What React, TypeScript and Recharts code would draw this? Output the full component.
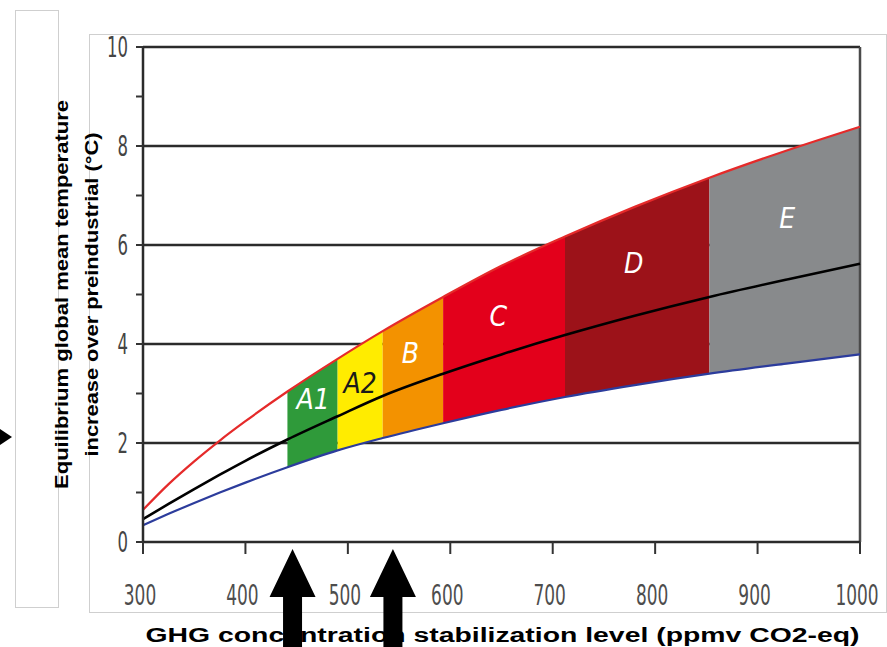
import React from "react";
import { Area, CartesianGrid, ComposedChart, Label, Line, ReferenceDot, ReferenceLine, XAxis, YAxis } from "recharts";

// GHG stabilisation level (ppmv CO2-eq) vs equilibrium warming (°C)
const ppm = [300, 325, 350, 375, 400, 441, 490, 534, 593, 650, 712, 780, 853, 930, 1000];
const upper = [0.65, 1.17, 1.63, 2.05, 2.44, 3.04, 3.7, 4.26, 4.95, 5.58, 6.17, 6.77, 7.36, 7.92, 8.39];
const central = [0.46, 0.77, 1.07, 1.36, 1.64, 2.07, 2.54, 2.95, 3.4, 3.79, 4.18, 4.57, 4.95, 5.31, 5.62];
const lower = [0.34, 0.57, 0.79, 1.0, 1.2, 1.51, 1.85, 2.1, 2.4, 2.67, 2.93, 3.17, 3.4, 3.61, 3.79];

const bandNames = ["A1", "A2", "B", "C", "D", "E"];
const bandFrom = [441, 490, 534, 593, 712, 853];
const bandTo = [490, 534, 593, 712, 853, 1000];
const bandColors = ["#2f9a3a", "#ffec00", "#f39200", "#e3001b", "#9c1219", "#888a8c"];
const labelPpm = [466, 512, 561, 647, 779, 929];
const labelTemp = [2.87, 3.21, 3.81, 4.55, 5.63, 6.54];
const labelColors = ["#ffffff", "#1a1a1a", "#ffffff", "#ffffff", "#ffffff", "#ffffff"];

const xTicks = [300, 400, 500, 600, 700, 800, 900, 1000];
const yTicks = [0, 1, 2, 3, 4, 5, 6, 7, 8, 9, 10];
const gridValues = [2, 4, 6, 8, 10];
const arrowPpm = [446, 544];

const NARROW = "'Liberation Sans Narrow', 'DejaVu Sans Condensed', 'Liberation Sans', sans-serif";
const SANS = "'Liberation Sans', Arial, sans-serif";

const rows = ppm.map((p, i) => {
  const row: Record<string, any> = { ppm: p, upper: upper[i], central: central[i], lower: lower[i] };
  bandNames.forEach((b, j) => {
    row[b] = p >= bandFrom[j] && p <= bandTo[j] ? [lower[i], upper[i]] : null;
  });
  return row;
});

const XTick = ({ x, y, payload }: any) => (
  <text
    x={x - 3}
    y={y + 49}
    textAnchor="middle"
    fill="#4d4d4d"
    fontSize={28}
    fontFamily={NARROW}
    textLength={String(payload.value).length * 10.8}
    lengthAdjust="spacingAndGlyphs"
  >
    {payload.value}
  </text>
);

const YTick = ({ x, y, payload }: any) =>
  payload.value % 2 === 0 ? (
    <text
      x={x - 6}
      y={y + 10}
      textAnchor="end"
      fill="#444"
      fontSize={28}
      fontFamily={NARROW}
      textLength={String(payload.value).length * 10.5}
      lengthAdjust="spacingAndGlyphs"
    >
      {payload.value}
    </text>
  ) : (
    <g />
  );

const ArrowUp = ({ cx, cy }: any) => (
  <polygon
    points={`${cx},${cy + 7} ${cx + 23},${cy + 55} ${cx + 9.5},${cy + 55} ${cx + 9.5},${cy + 130} ${cx - 9.5},${cy + 130} ${cx - 9.5},${cy + 55} ${cx - 23},${cy + 55}`}
    fill="#000"
  />
);

const bandLabel = (text: string, color: string) => ({ cx, cy }: any) => (
  <text
    x={cx}
    y={cy}
    textAnchor="middle"
    dominantBaseline="central"
    fill={color}
    fontSize={28}
    fontStyle="italic"
    fontFamily={NARROW}
  >
    {text}
  </text>
);

const YTitle = ({ viewBox }: any) => {
  const cy = viewBox.y + viewBox.height / 2;
  const x1 = viewBox.x - 31;
  const x2 = viewBox.x - 1;
  return (
    <g fontFamily={SANS} fontWeight="bold" fontSize={18} fill="#000">
      <text
        x={x1}
        y={cy}
        transform={`rotate(-90 ${x1} ${cy})`}
        textAnchor="middle"
        dominantBaseline="central"
        textLength={389}
        lengthAdjust="spacingAndGlyphs"
      >
        Equilibrium global mean temperature
      </text>
      <text
        x={x2}
        y={cy}
        transform={`rotate(-90 ${x2} ${cy})`}
        textAnchor="middle"
        dominantBaseline="central"
        textLength={324}
        lengthAdjust="spacingAndGlyphs"
      >
        increase over preindustrial (°C)
      </text>
    </g>
  );
};

const XTitle = ({ viewBox }: any) => (
  <text
    x={viewBox.x + viewBox.width / 2 + 1}
    y={viewBox.y + 100}
    textAnchor="middle"
    fontFamily={SANS}
    fontWeight="bold"
    fontSize={20}
    fill="#000"
    textLength={714}
    lengthAdjust="spacingAndGlyphs"
  >
    GHG concentration stabilization level (ppmv CO2-eq)
  </text>
);

export default function App() {
  return (
    <div style={{ position: "absolute", left: 0, top: 0, width: 887, height: 647, background: "#fff", overflow: "hidden" }}>
      <div style={{ position: "absolute", left: 15, top: 10, width: 42, height: 596, border: "1px solid #cfcfcf" }} />
      <div style={{ position: "absolute", left: 89, top: 34, width: 796, height: 577, border: "1px solid #cfcfcf" }} />
      <svg width={887} height={647} style={{ position: "absolute", left: 0, top: 0 }}>
        <polygon points="0,429 12,437 0,445" fill="#000" />
      </svg>
      <div style={{ position: "absolute", left: 0, top: 0 }}>
        <ComposedChart width={887} height={647} data={rows} margin={{ top: 47, right: 27, bottom: 0, left: 93 }}>
          <CartesianGrid vertical={false} horizontalValues={gridValues} stroke="#2b2b2b" strokeWidth={2.5} />
          <XAxis
            dataKey="ppm"
            type="number"
            domain={[300, 1000]}
            ticks={xTicks}
            tickSize={12}
            tickLine={{ stroke: "#333", strokeWidth: 2 }}
            axisLine={{ stroke: "#2b2b2b", strokeWidth: 2.5 }}
            tick={<XTick />}
            height={105}
            interval={0}
          >
            <Label content={<XTitle />} />
          </XAxis>
          <YAxis
            type="number"
            domain={[0, 10]}
            ticks={yTicks}
            tickSize={7}
            tickLine={{ stroke: "#333", strokeWidth: 2 }}
            axisLine={{ stroke: "#2b2b2b", strokeWidth: 2.5 }}
            tick={<YTick />}
            width={50}
            interval={0}
          >
            <Label content={<YTitle />} />
          </YAxis>
          {bandNames.map((b, j) => (
            <Area
              key={b}
              dataKey={b}
              type="monotone"
              stroke="none"
              fill={bandColors[j]}
              fillOpacity={1}
              dot={false}
              activeDot={false}
              isAnimationActive={false}
            />
          ))}
          <ReferenceLine x={1000} stroke="#4a4a4a" strokeWidth={2.5} />
          <Line dataKey="upper" type="monotone" stroke="#e52a2a" strokeWidth={2.2} dot={false} activeDot={false} isAnimationActive={false} />
          <Line dataKey="lower" type="monotone" stroke="#2c3c9c" strokeWidth={2.2} dot={false} activeDot={false} isAnimationActive={false} />
          <Line dataKey="central" type="monotone" stroke="#000" strokeWidth={2.6} dot={false} activeDot={false} isAnimationActive={false} />
          {bandNames.map((b, j) => (
            <ReferenceDot key={"l" + b} x={labelPpm[j]} y={labelTemp[j]} r={0} shape={bandLabel(b, labelColors[j])} />
          ))}
          {arrowPpm.map((p) => (
            <ReferenceDot key={"a" + p} x={p} y={0} r={0} shape={<ArrowUp />} />
          ))}
        </ComposedChart>
      </div>
    </div>
  );
}
